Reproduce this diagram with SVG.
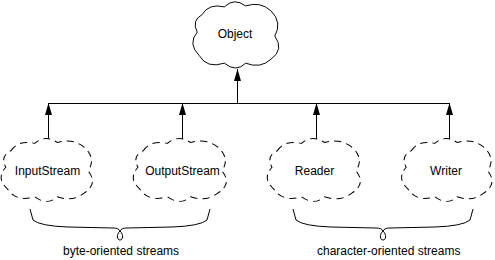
<svg xmlns="http://www.w3.org/2000/svg" width="495" height="260" viewBox="0 0 495 260">
<style>
.bg{fill:#fff}
.cloud{fill:#fff;stroke:#000;stroke-width:1}
.dashed{stroke-dasharray:7 5}
.lbl{font-family:"Liberation Sans",Arial,sans-serif;font-size:12px;fill:#000}
.conn{fill:none;stroke:#000;stroke-width:1}
.brace{fill:none;stroke:#000;stroke-width:1}
</style>
<defs>
<path id="cloudShape" d="M-35,-22 Q-28,-34 -12,-30 Q-2,-40 10,-31 Q25,-36 36,-26 Q48,-14 40,0 Q50,14 36,24 Q25,34 10,28 Q0,38 -12,28 Q-30,34 -38,20 Q-50,8 -40,-4 Q-46,-16 -35,-22 Z"/>
<marker id="arr" viewBox="0 0 12 7" refX="12" refY="3.5" markerWidth="12" markerHeight="7" markerUnits="userSpaceOnUse" orient="auto">
<path d="M0,0 L12,3.5 L0,7 Z" fill="#000"/>
</marker>
</defs>
<rect class="bg" width="495" height="260"/>
<g id="connectors">
<line class="conn" x1="48" y1="103.5" x2="449" y2="103.5"/>
<line class="conn" x1="237.5" y1="103" x2="237.5" y2="69" marker-end="url(#arr)"/>
<line class="conn" x1="48.5" y1="141" x2="48.5" y2="103" marker-end="url(#arr)"/>
<line class="conn" x1="182.5" y1="141" x2="182.5" y2="103" marker-end="url(#arr)"/>
<line class="conn" x1="316.5" y1="141" x2="316.5" y2="103" marker-end="url(#arr)"/>
<line class="conn" x1="449.5" y1="141" x2="449.5" y2="103" marker-end="url(#arr)"/>
</g>
<g id="object">
<use href="#cloudShape" class="cloud" transform="translate(236,36) scale(0.97)"/>
<text class="lbl" x="235" y="38" text-anchor="middle">Object</text>
</g>
<g id="inputstream">
<use href="#cloudShape" class="cloud dashed" transform="translate(47,171) scale(1.03,0.92)"/>
<text class="lbl" x="47.5" y="175" text-anchor="middle">InputStream</text>
</g>
<g id="outputstream">
<use href="#cloudShape" class="cloud dashed" transform="translate(180,171) scale(1.05,0.92)"/>
<text class="lbl" x="182.5" y="175" text-anchor="middle">OutputStream</text>
</g>
<g id="reader">
<use href="#cloudShape" class="cloud dashed" transform="translate(314,171) scale(1.05,0.92)"/>
<text class="lbl" x="314.5" y="175" text-anchor="middle">Reader</text>
</g>
<g id="writer">
<use href="#cloudShape" class="cloud dashed" transform="translate(447,171) scale(1.02,0.92)"/>
<text class="lbl" x="446" y="175" text-anchor="middle">Writer</text>
</g>
<g id="byte-group">
<path class="brace" d="M30,209 L33,220 Q40,226 68,227 L113,228 C117,228 119,229 120,231 C116,235 117,240 120,240 C123,240 124,235 120,231 C121,229 123,228 127,228 L172,227 Q200,226 207,220 L210,209"/>
<text class="lbl" x="63" y="255">byte-oriented streams</text>
</g>
<g id="char-group">
<path class="brace" d="M293,209 L296,220 Q303,226 331,227 L376,228 C380,228 382,229 383,231 C379,235 380,240 383,240 C386,240 387,235 383,231 C384,229 386,228 390,228 L435,227 Q463,226 470,220 L473,209"/>
<text class="lbl" x="317" y="255">character-oriented streams</text>
</g>
</svg>
